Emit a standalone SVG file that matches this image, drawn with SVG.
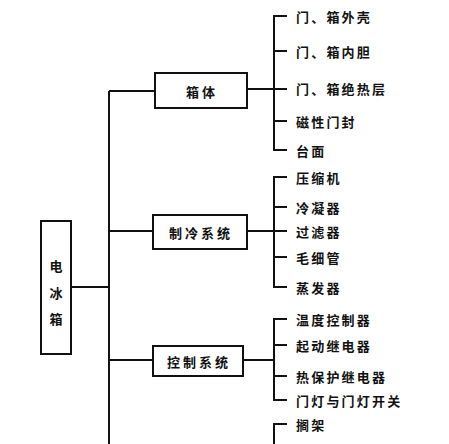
<svg xmlns="http://www.w3.org/2000/svg" width="449" height="444" viewBox="0 0 449 444">
<style>
.ln{fill:none;stroke:#111;stroke-width:2}
.bx{fill:#fff;stroke:#111;stroke-width:2}
text{font-family:"Noto Sans CJK SC","Noto Sans CJK JP",sans-serif;font-weight:bold;font-size:13px;fill:#111;dominant-baseline:central}
.c{text-anchor:middle}
.b{letter-spacing:3px}
#leaves text{letter-spacing:2.2px}
</style>
<rect width="449" height="444" fill="#fff"/>
<g id="connectors">
<path class="ln" d="M109 91V444"/>
<path class="ln" d="M71 287H109"/>
<path class="ln" d="M109 91H155"/>
<path class="ln" d="M109 231H153"/>
<path class="ln" d="M109 360H153"/>
<path class="ln" d="M247 89H274"/>
<path class="ln" d="M247 231H274"/>
<path class="ln" d="M243 360H274"/>
<path class="ln" d="M287 16H274V150H287M274 51H287M274 89H287M274 121H287"/>
<path class="ln" d="M287 177H274V287H287M274 207H287M274 231H287M274 257H287"/>
<path class="ln" d="M287 319H274V400H287M274 345H287M274 376H287"/>
<path class="ln" d="M287 424H274V444"/>
</g>
<g id="root"><rect class="bx" x="41" y="221" width="30" height="133"/>
<text class="c" x="56" y="265">电</text><text class="c" x="56" y="292">冰</text><text class="c" x="56" y="318">箱</text></g>
<g id="n1"><rect class="bx" x="155" y="73" width="92" height="35"/><text class="c b" x="202" y="91">箱体</text></g>
<g id="n2"><rect class="bx" x="153" y="215" width="94" height="34"/><text class="c b" x="201" y="232">制冷系统</text></g>
<g id="n3"><rect class="bx" x="153" y="346" width="90" height="30"/><text class="c b" x="199" y="361">控制系统</text></g>
<g id="leaves">
<text x="296" y="16">门、箱外壳</text>
<text x="296" y="51">门、箱内胆</text>
<text x="296" y="88">门、箱绝热层</text>
<text x="296" y="121">磁性门封</text>
<text x="296" y="150">台面</text>
<text x="296" y="177">压缩机</text>
<text x="296" y="207">冷凝器</text>
<text x="296" y="231">过滤器</text>
<text x="296" y="257">毛细管</text>
<text x="296" y="287">蒸发器</text>
<text x="296" y="319">温度控制器</text>
<text x="296" y="345">起动继电器</text>
<text x="296" y="376">热保护继电器</text>
<text x="296" y="400">门灯与门灯开关</text>
<text x="296" y="424">搁架</text>
</g>
</svg>
